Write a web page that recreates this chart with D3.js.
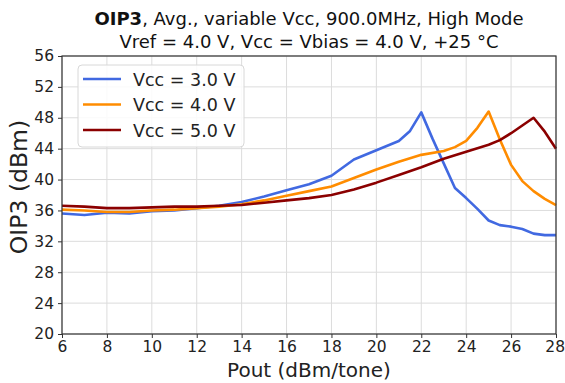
<!DOCTYPE html>
<html lang="en">
<head>
<meta charset="UTF-8">
<script src="https://cdn.jsdelivr.net/npm/d3@7"></script>
<style>
  body { margin: 0; background: #fff; }
  svg { font-family: "DejaVu Sans", sans-serif; }
</style>
</head>
<body>
<div id="chart"></div>
<script>
// data
const seriesNames = ["Vcc = 3.0 V", "Vcc = 4.0 V", "Vcc = 5.0 V"];
const seriesColors = ["#4169e1", "#ff8c00", "#8b0000"];

const pout30 = [6,7,8,9,10,11,12,13,14,15,16,17,18,19,20,21,21.5,22,22.5,23,23.5,24,24.5,25,25.5,26,26.5,27,27.5,28];
const oip30  = [35.6,35.4,35.7,35.6,35.9,36.0,36.3,36.6,37.1,37.8,38.6,39.4,40.5,42.6,43.8,45.0,46.3,48.7,45.3,42.1,38.9,37.6,36.2,34.7,34.1,33.9,33.6,33.0,32.8,32.8];

const pout40 = [6,7,8,9,10,11,12,13,14,15,16,17,18,19,20,21,22,23,23.5,24,24.5,25,25.5,26,26.5,27,27.5,28];
const oip40  = [36.1,36.0,35.8,35.8,36.0,36.1,36.3,36.5,36.8,37.3,37.9,38.5,39.1,40.2,41.3,42.3,43.2,43.7,44.2,45.0,46.7,48.8,45.2,41.9,39.8,38.5,37.5,36.7];

const pout50 = [6,7,8,9,10,11,12,13,14,15,16,17,18,19,20,21,22,23,24,25,25.5,26,26.5,27,27.5,28];
const oip50  = [36.6,36.5,36.3,36.3,36.4,36.5,36.5,36.6,36.7,37.0,37.3,37.6,38.0,38.7,39.6,40.6,41.6,42.7,43.6,44.5,45.1,46.0,47.0,48.0,46.2,44.0];

const xTicks = [6,8,10,12,14,16,18,20,22,24,26,28];
const yTicks = [20,24,28,32,36,40,44,48,52,56];

const width = 565, height = 383;
const margin = {top: 56, right: 9, bottom: 49, left: 62};

const svg = d3.select('#chart').append('svg')
  .attr('width', width)
  .attr('height', height);

const x = d3.scaleLinear().domain([6, 28]).range([margin.left, width - margin.right]);
const y = d3.scaleLinear().domain([20, 56]).range([height - margin.bottom, margin.top]);

// grid
svg.append('g').selectAll('line').data(xTicks).join('line')
  .attr('x1', d => x(d)).attr('x2', d => x(d))
  .attr('y1', y(20)).attr('y2', y(56))
  .attr('stroke', '#dcdcdc').attr('stroke-width', 1);
svg.append('g').selectAll('line').data(yTicks).join('line')
  .attr('x1', x(6)).attr('x2', x(28))
  .attr('y1', d => y(d)).attr('y2', d => y(d))
  .attr('stroke', '#dcdcdc').attr('stroke-width', 1);

// lines
const series = [
  {name: seriesNames[0], color: seriesColors[0], xs: pout30, ys: oip30},
  {name: seriesNames[1], color: seriesColors[1], xs: pout40, ys: oip40},
  {name: seriesNames[2], color: seriesColors[2], xs: pout50, ys: oip50}
];
const line = d3.line().x(d => x(d[0])).y(d => y(d[1]));
svg.append('g').selectAll('path').data(series).join('path')
  .attr('d', s => line(d3.zip(s.xs, s.ys)))
  .attr('fill', 'none')
  .attr('stroke', s => s.color)
  .attr('stroke-width', 2.6)
  .attr('stroke-linejoin', 'round');

// axes
const xAxis = svg.append('g')
  .attr('transform', `translate(0,${y(20)})`)
  .call(d3.axisBottom(x).tickValues(xTicks).tickSize(4).tickPadding(3));
const yAxis = svg.append('g')
  .attr('transform', `translate(${x(6)},0)`)
  .call(d3.axisLeft(y).tickValues(yTicks).tickSize(4).tickPadding(4));
[xAxis, yAxis].forEach(a => {
  a.selectAll('text').attr('font-size', 15.5).attr('fill', '#222').attr('font-family', '"DejaVu Sans", sans-serif');
  a.selectAll('line').attr('stroke', '#333');
  a.select('.domain').remove();
});
// last x label sits on the window edge, keep it inside
xAxis.selectAll('.tick').filter(d => d === 28).select('text').attr('text-anchor', 'end').attr('dx', '0.55em');

// frame
svg.append('rect')
  .attr('x', x(6)).attr('y', y(56))
  .attr('width', x(28) - x(6)).attr('height', y(20) - y(56))
  .attr('fill', 'none').attr('stroke', '#333').attr('stroke-width', 1.2);

// axis labels
svg.append('text')
  .attr('x', (x(6) + x(28)) / 2).attr('y', 377)
  .attr('text-anchor', 'middle').attr('font-size', 20).attr('fill', '#222')
  .text('Pout (dBm/tone)');
svg.append('text')
  .attr('transform', `translate(27,187) rotate(-90)`)
  .attr('text-anchor', 'middle').attr('font-size', 23.5).attr('fill', '#222')
  .text('OIP3 (dBm)');

// title
const t1 = svg.append('text')
  .attr('x', (x(6) + x(28)) / 2).attr('y', 25)
  .attr('text-anchor', 'middle').attr('font-size', 18).attr('fill', '#111');
t1.append('tspan').attr('font-weight', 'bold').text('OIP3');
t1.append('tspan').text(', Avg., variable Vcc, 900.0MHz, High Mode');
svg.append('text')
  .attr('x', (x(6) + x(28)) / 2).attr('y', 48)
  .attr('text-anchor', 'middle').attr('font-size', 18).attr('fill', '#111')
  .text('Vref = 4.0 V, Vcc = Vbias = 4.0 V, +25 °C');

// legend
const lg = svg.append('g').attr('transform', 'translate(78,65)');
lg.append('rect')
  .attr('width', 166).attr('height', 82).attr('rx', 4)
  .attr('fill', 'rgba(255,255,255,0.85)').attr('stroke', '#d8d8d8');
const rows = lg.selectAll('g.row').data(series).join('g')
  .attr('class', 'row')
  .attr('transform', (d, i) => `translate(0,${14 + i * 25.5})`);
rows.append('line')
  .attr('x1', 5).attr('x2', 43)
  .attr('stroke', d => d.color).attr('stroke-width', 2.6);
rows.append('text')
  .attr('x', 55).attr('y', 6.5)
  .attr('font-size', 17.5).attr('fill', '#222')
  .text(d => d.name);
</script>
</body>
</html>
